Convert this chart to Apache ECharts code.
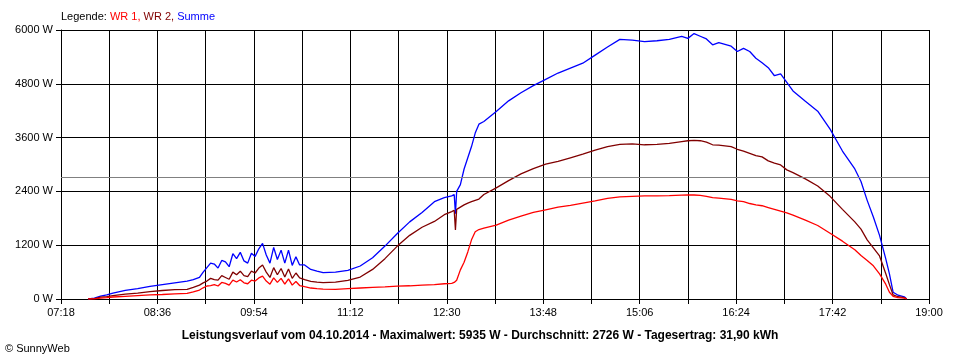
<!DOCTYPE html>
<html>
<head>
<meta charset="utf-8">
<script src="https://cdn.jsdelivr.net/npm/echarts@6/dist/echarts.min.js"></script>
<style>html,body{margin:0;padding:0;background:#fff}#c{width:960px;height:360px}</style>
</head>
<body>
<div id="c"></div>
<script>
const times = ['07:40','07:45','07:50','07:55','08:00','08:10','08:20','08:30','08:40','08:50',
'09:00','09:05','09:10','09:13','09:16','09:19','09:22','09:25','09:28','09:31',
'09:34','09:37','09:40','09:43','09:46','09:49','09:52','09:55','09:58','10:01',
'10:04','10:07','10:10','10:13','10:16','10:19','10:22','10:25','10:28','10:31',
'10:35','10:40','10:45','10:50','11:00','11:10','11:20','11:30','11:40','11:50',
'12:00','12:10','12:20','12:28','12:34','12:36','12:37','12:38','12:41','12:44',
'12:47','12:50','12:53','12:56','13:00','13:10','13:20','13:30','13:40','13:50',
'14:00','14:10','14:20','14:30','14:40','14:50','15:00','15:10','15:20','15:30',
'15:40','15:45','15:50','15:55','16:00','16:05','16:10','16:20','16:25','16:30',
'16:35','16:40','16:45','16:50','16:55','17:00','17:05','17:10','17:20','17:30',
'17:40','17:50','18:00','18:05','18:10','18:15','18:20','18:25','18:28','18:31',
'18:35','18:40','18:42'];

const summe = [0,20,65,90,130,190,230,280,320,360,
400,430,480,600,700,800,780,690,860,830,
720,1010,900,1040,850,800,1020,950,1120,1240,
980,800,1150,880,1090,800,1090,750,940,760,
760,660,620,590,600,640,736,920,1180,1460,
1720,1930,2170,2260,2300,2330,1900,2400,2550,2900,
3150,3400,3700,3900,3960,4180,4420,4600,4760,4900,
5040,5150,5260,5440,5620,5790,5776,5740,5760,5790,
5860,5813,5920,5860,5800,5670,5720,5640,5520,5590,
5520,5370,5270,5160,4980,5020,4830,4640,4410,4190,
3790,3300,2900,2620,2200,1830,1420,900,560,150,
85,50,0];

const wr2 = [0,10,40,55,75,110,130,165,190,210,
215,260,310,360,400,460,430,420,520,480,
440,600,540,620,520,500,620,580,690,760,
600,480,700,540,680,490,670,460,580,470,
430,395,375,364,375,415,490,660,900,1180,
1420,1600,1730,1880,1950,1980,1540,2000,2050,2100,
2140,2170,2200,2230,2330,2480,2640,2790,2910,3010,
3070,3150,3230,3320,3400,3450,3460,3440,3450,3470,
3510,3530,3540,3530,3500,3440,3430,3400,3340,3300,
3250,3200,3170,3080,3030,2990,2880,2820,2680,2520,
2290,2000,1720,1560,1320,1140,960,570,320,90,
50,30,0];

const wr1 = [0,5,20,30,45,60,75,90,100,115,
127,160,200,250,290,300,320,290,370,350,
310,420,380,430,360,340,420,400,470,510,
400,330,470,370,460,330,450,310,390,300,
275,245,230,222,215,230,245,260,270,285,
295,310,320,340,350,370,380,420,650,820,
1050,1320,1500,1550,1580,1650,1760,1850,1930,1990,
2050,2090,2140,2190,2246,2280,2290,2300,2300,2305,
2315,2320,2320,2310,2290,2260,2250,2220,2190,2170,
2130,2100,2080,2040,2000,1960,1920,1870,1760,1640,
1465,1290,1100,970,860,740,560,330,150,60,
30,20,0];

const average = 2726;
const yTicks = [0,1200,2400,3600,4800,6000];
const startTime = '07:18';
const endTime = '19:00';
const titleText = 'Leistungsverlauf vom 04.10.2014 - Maximalwert: 5935 W - Durchschnitt: 2726 W - Tagesertrag: 31,90 kWh';

function toMin(s){const p=s.split(':');return (+p[0])*60+(+p[1]);}
const t0 = toMin(startTime);
const t1 = toMin(endTime);
function fmt(m){const h=Math.floor(m/60),mm=m%60;return String(h).padStart(2,'0')+':'+String(mm).padStart(2,'0');}
function pairs(vals){return times.map((t,i)=>[toMin(t)-t0, vals[i]]);}

const FONT = 'Liberation Sans';
const chart = echarts.init(document.getElementById('c'), null, {renderer:'canvas'});
chart.setOption({
  animation:false,
  backgroundColor:'#ffffff',
  grid:{left:61,right:31,top:30,bottom:61,show:false},
  xAxis:{
    type:'value', min:0, max:t1-t0, interval:39,
    axisLine:{show:true,lineStyle:{color:'#000',width:1}},
    axisTick:{show:true,length:5,inside:false,lineStyle:{color:'#000'}},
    splitLine:{show:true,lineStyle:{color:'#000',width:1}},
    axisLabel:{show:true,color:'#000',fontFamily:FONT,fontSize:11,margin:8,
      formatter:v=> (v%78===0)?fmt(v+t0):''}
  },
  yAxis:{
    type:'value', min:yTicks[0], max:yTicks[yTicks.length-1], interval:yTicks[1]-yTicks[0],
    axisLine:{show:true,lineStyle:{color:'#000',width:1}},
    axisTick:{show:true,length:5,lineStyle:{color:'#000'}},
    splitLine:{show:true,lineStyle:{color:'#000',width:1}},
    axisLabel:{show:true,color:'#000',fontFamily:FONT,fontSize:11,margin:8,
      formatter:v=>v+' W'}
  },
  graphic:[
    {type:'text',left:61,top:11,style:{
      text:'{a|Legende: }{b|WR 1, }{c|WR 2, }{d|Summe}',
      rich:{
        a:{fill:'#000',fontFamily:FONT,fontSize:11},
        b:{fill:'#ff0000',fontFamily:FONT,fontSize:11},
        c:{fill:'#800000',fontFamily:FONT,fontSize:11},
        d:{fill:'#0000ff',fontFamily:FONT,fontSize:11}
      }}},
    {type:'text',left:'center',top:330,style:{text:titleText,fill:'#000',fontFamily:FONT,fontSize:12,fontWeight:'bold'}},
    {type:'text',left:5,top:343,style:{text:'© SunnyWeb',fill:'#000',fontFamily:FONT,fontSize:11}}
  ],
  series:[
    {name:'Summe',type:'line',data:pairs(summe),symbol:'none',lineStyle:{color:'#0000ff',width:1.3},
      markLine:{silent:true,symbol:'none',label:{show:false},lineStyle:{color:'#808080',type:'solid',width:1},data:[{yAxis:average}]},z:3},
    {name:'WR 2',type:'line',data:pairs(wr2),symbol:'none',lineStyle:{color:'#800000',width:1.3},z:4},
    {name:'WR 1',type:'line',data:pairs(wr1),symbol:'none',lineStyle:{color:'#ff0000',width:1.3},z:5}
  ]
});
</script>
</body>
</html>
